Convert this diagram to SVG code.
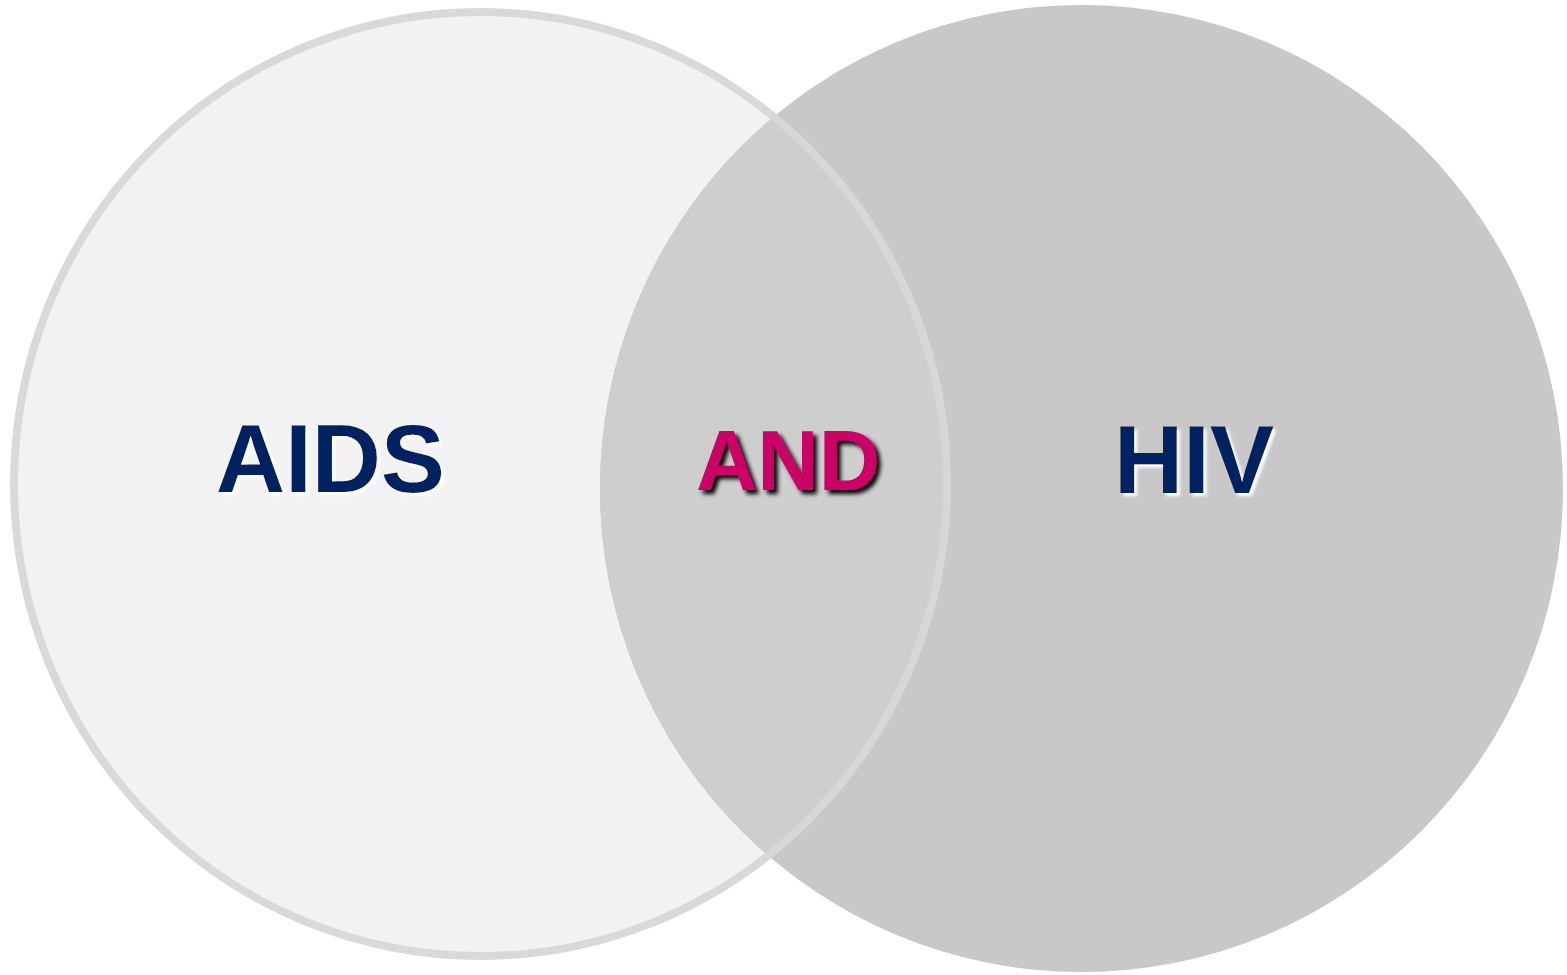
<svg xmlns="http://www.w3.org/2000/svg" width="1567" height="975" viewBox="0 0 1567 975">
<defs>
<style>
.lbl{font-family:"Liberation Sans",Arial,sans-serif;font-weight:bold}
.navy{fill:#002060}
.mag{fill:#cc0066}
</style>
<filter id="wsh" x="-10%" y="-20%" width="130%" height="150%">
<feDropShadow dx="3" dy="3" stdDeviation="1.5" flood-color="#ffffff" flood-opacity="1"/>
</filter>
<filter id="bsh" x="-10%" y="-20%" width="130%" height="150%">
<feDropShadow dx="4" dy="4" stdDeviation="2" flood-color="#000000" flood-opacity="1"/>
</filter>
<clipPath id="rightClip"><ellipse cx="1081.5" cy="488.5" rx="481.5" ry="483.5"/></clipPath>
</defs>
<rect width="1567" height="975" fill="#ffffff"/>
<g id="circle-aids">
<ellipse cx="480.5" cy="484" rx="466.5" ry="472" fill="#f2f2f2" stroke="#d9d9d9" stroke-width="8"/>
</g>
<g id="circle-hiv">
<ellipse cx="1081.5" cy="488.5" rx="481.5" ry="483.5" fill="#c8c8c8"/>
</g>
<g id="overlap" clip-path="url(#rightClip)">
<ellipse cx="480.5" cy="484" rx="466.5" ry="472" fill="#cecece" stroke="#d7d7d7" stroke-width="8"/>
</g>
<g id="connectors"></g>
<g id="label-aids"><text class="lbl navy" x="216" y="492" font-size="97" textLength="229" lengthAdjust="spacingAndGlyphs" filter="url(#wsh)">AIDS</text></g>
<g id="label-and"><text class="lbl mag" x="696" y="490" font-size="86" textLength="184" lengthAdjust="spacingAndGlyphs" filter="url(#bsh)">AND</text></g>
<g id="label-hiv"><text class="lbl navy" x="1114" y="493" font-size="96" filter="url(#wsh)">HIV</text></g>
</svg>
